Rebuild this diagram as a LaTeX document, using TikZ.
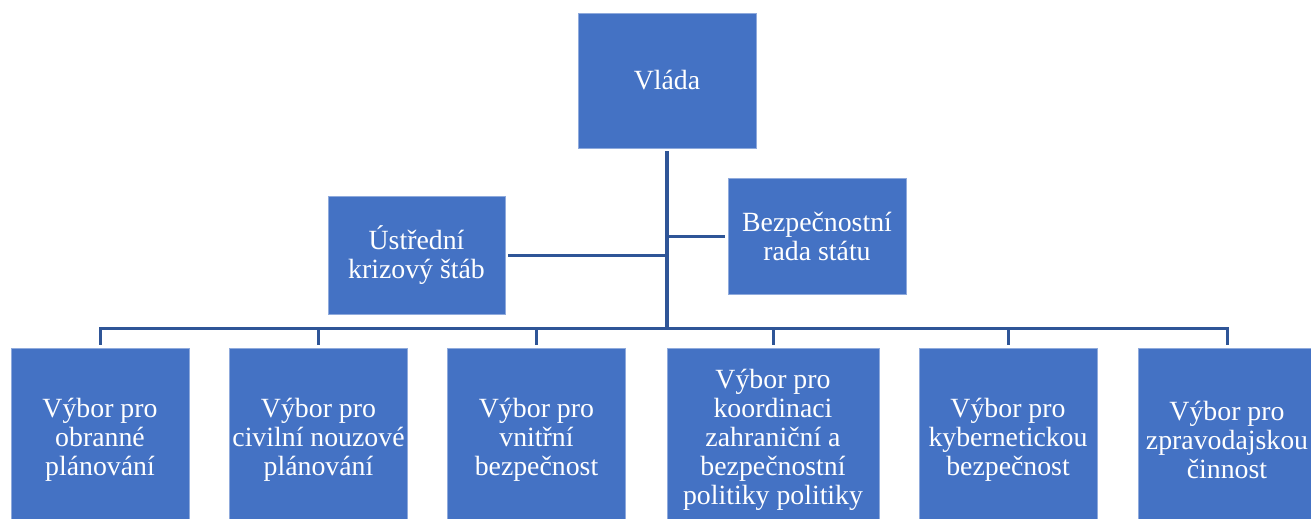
\documentclass[tikz,border=0pt]{standalone}
\usepackage{fontspec}
\setmainfont{Liberation Serif}
\definecolor{boxblue}{RGB}{68,114,196}
\definecolor{edgeblue}{RGB}{143,170,220}
\definecolor{linkblue}{RGB}{47,85,151}
\begin{document}
\begin{tikzpicture}[x=1pt,y=-1pt,
  orgbox/.style={fill=boxblue,draw=edgeblue,line width=0.8pt,text=white,align=center,
    font=\fontsize{27.8}{29}\selectfont,inner sep=0pt,minimum width=178pt},
  link/.style={draw=linkblue,line width=3pt}]
\useasboundingbox (0,0) rectangle (1311,519);
\clip (0,0) rectangle (1311,519);
\node[orgbox,minimum height=135pt] (vlada) at (667,80.5) {Vláda};
\node[orgbox,minimum height=116pt] (bezp) at (817,236) {Bezpečnostní\\rada státu};
\node[orgbox,minimum width=177pt,minimum height=118pt] (ustr) at (416.5,255) {Ústřední\\krizový štáb};
\node[orgbox,minimum height=184pt] (b1) at (100,440) {Výbor pro\\obranné\\plánování};
\node[orgbox,minimum height=184pt] (b2) at (318.5,440) {Výbor pro\\civilní nouzové\\plánování};
\node[orgbox,minimum height=184pt] (b3) at (536.5,440) {Výbor pro\\vnitřní\\bezpečnost};
\node[orgbox,minimum width=212pt,minimum height=184pt] (b4) at (773,440) {Výbor pro\\koordinaci\\zahraniční a\\bezpečnostní\\politiky politiky};
\node[orgbox,minimum height=184pt] (b5) at (1008,440) {Výbor pro\\kybernetickou\\bezpečnost};
\node[orgbox,minimum height=184pt] (b6) at (1227,440) {Výbor pro\\zpravodajskou\\činnost};
\coordinate (bus) at (667,328);
\draw[link,line width=4pt] (vlada.south) ++(0,3) -- (bus);
\draw[link] (ustr.east) ++(3,0) -- (ustr.east -| bus);
\draw[link] (bezp.west) ++(-3,0) -- (bezp.west -| bus);
\foreach \b in {b1,b2,b3,b4,b5,b6}{
  \draw[link] (\b.north) ++(0,-3) |- (bus);
}
\end{tikzpicture}
\end{document}
